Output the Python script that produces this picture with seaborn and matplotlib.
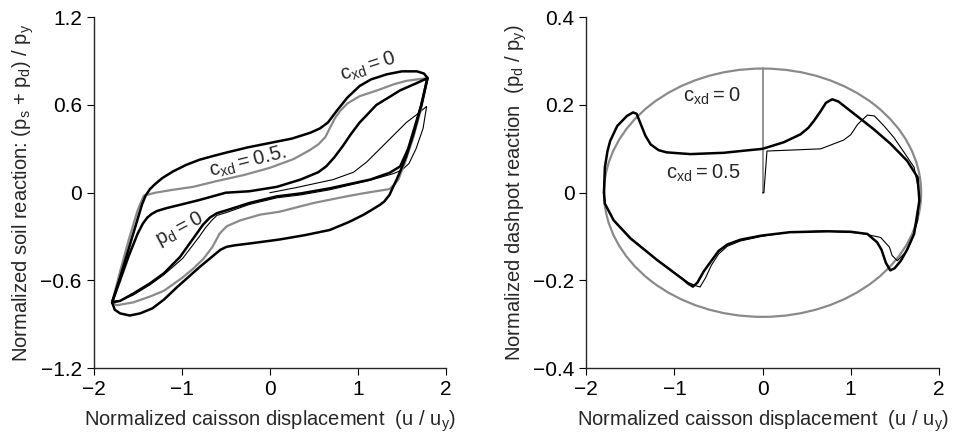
import numpy as np
import seaborn as sns
import matplotlib.pyplot as plt
from matplotlib.patches import Ellipse

# ---- левая панель: (ps + pd) / py против u / uy ----
# внешняя петля, c_xd = 0.5 (чёрная толстая)
outer_x = [-1.79, -1.70, -1.60, -1.50, -1.45, -1.41, -1.36, -1.30, -1.22, -1.10, -0.95, -0.80, -0.65,
           -0.49, -0.25, 0.0, 0.25, 0.46, 0.57, 0.66, 0.76, 0.88, 1.02, 1.15, 1.33, 1.50, 1.67, 1.75,
           1.79, 1.72, 1.64, 1.55, 1.49, 1.44, 1.40, 1.36, 1.30, 1.25, 1.15, 1.06, 0.90, 0.68, 0.40,
           0.11, -0.20, -0.40, -0.49, -0.56, -0.62, -0.70, -0.80, -0.93, -1.06, -1.20, -1.33, -1.47,
           -1.59, -1.70, -1.76, -1.79]
outer_y = [-0.75, -0.58, -0.38, -0.18, -0.08, -0.02, 0.025, 0.06, 0.10, 0.145, 0.19, 0.225, 0.25,
           0.275, 0.31, 0.34, 0.37, 0.41, 0.44, 0.48, 0.56, 0.65, 0.73, 0.775, 0.81, 0.83, 0.83, 0.815,
           0.785, 0.60, 0.42, 0.25, 0.16, 0.09, 0.04, -0.014, -0.06, -0.083, -0.12, -0.152, -0.20,
           -0.255, -0.29, -0.32, -0.345, -0.36, -0.37, -0.39, -0.42, -0.46, -0.51, -0.58, -0.65, -0.73,
           -0.79, -0.825, -0.84, -0.825, -0.80, -0.75]

# серая петля
gray_x = [-1.79, -1.70, -1.60, -1.50, -1.43, -1.30, -1.10, -0.87, -0.60, -0.30, 0.0, 0.27, 0.45,
          0.55, 0.63, 0.68, 0.74, 0.80, 0.88, 1.02, 1.22, 1.40, 1.55, 1.74, 1.79,
          1.72, 1.63, 1.53, 1.46, 1.42, 1.36, 1.10, 0.87, 0.50, 0.11, -0.11, -0.34, -0.49, -0.57,
          -0.65, -0.75, -0.87, -0.99, -1.20, -1.36, -1.55, -1.74, -1.79]
gray_y = [-0.75, -0.54, -0.32, -0.12, -0.02, 0.0, 0.02, 0.04, 0.08, 0.12, 0.17, 0.23, 0.29,
          0.33, 0.38, 0.44, 0.51, 0.56, 0.61, 0.66, 0.70, 0.74, 0.765, 0.78, 0.78,
          0.58, 0.38, 0.20, 0.09, 0.06, 0.025, 0.0, -0.025, -0.07, -0.13, -0.15, -0.19, -0.23, -0.28,
          -0.37, -0.45, -0.52, -0.58, -0.67, -0.71, -0.75, -0.77, -0.75]

# средняя петля, pd = 0 (чёрная толстая)
mid_x = [-1.79, -1.70, -1.60, -1.50, -1.44, -1.39, -1.34, -1.28, -1.17, -1.00, -0.80, -0.50, -0.23,
         0.08, 0.35, 0.55, 0.64, 0.73, 0.83, 0.92, 1.02, 1.21, 1.48, 1.65, 1.76, 1.79,
         1.72, 1.64, 1.57, 1.48, 1.36, 1.14, 0.68, 0.35, 0.08, -0.23, -0.49, -0.60, -0.68, -0.76,
         -0.83, -1.02, -1.20, -1.36, -1.55, -1.70, -1.79]
mid_y = [-0.75, -0.60, -0.43, -0.28, -0.21, -0.17, -0.145, -0.125, -0.105, -0.08, -0.05, 0.0, 0.01,
         0.04, 0.09, 0.14, 0.18, 0.24, 0.32, 0.40, 0.48, 0.60, 0.70, 0.745, 0.775, 0.785,
         0.60, 0.44, 0.30, 0.18, 0.136, 0.09, 0.03, -0.005, -0.025, -0.07, -0.12, -0.14, -0.17,
         -0.22, -0.28, -0.44, -0.55, -0.62, -0.69, -0.74, -0.75]

# первый цикл нагружения (тонкая)
first_x = [0.0, 0.30, 0.72, 0.95, 1.10, 1.25, 1.40, 1.55, 1.68, 1.78,
           1.74, 1.66, 1.58, 1.50, 1.40, 1.14, 0.68, 0.35, 0.08, -0.23, -0.49, -0.60, -0.66, -0.73,
           -0.80, -0.99, -1.20, -1.36, -1.55, -1.70, -1.78]
first_y = [0.0, 0.035, 0.09, 0.14, 0.21, 0.30, 0.39, 0.48, 0.54, 0.59,
           0.44, 0.30, 0.20, 0.155, 0.13, 0.085, 0.02, -0.015, -0.035, -0.08, -0.135, -0.155,
           -0.19, -0.24, -0.30, -0.45, -0.56, -0.63, -0.70, -0.74, -0.74]

# ---- правая панель: pd / py против u / uy ----
# эллипс при c_xd = 0: центр и полуоси
ell_center = (0.0, 0.0)
ell_half_w = 1.80
ell_half_h = 0.283
spike_x = [0.0, 0.0]
spike_y = [0.0, 0.285]

dash_x = [-1.80, -1.79, -1.76, -1.73, -1.65, -1.54, -1.47, -1.43, -1.39, -1.33, -1.27, -1.18, -1.09,
          -0.82, -0.44, -0.20, 0.0, 0.24, 0.43, 0.52, 0.58, 0.66, 0.72, 0.79, 0.86, 1.07, 1.26, 1.45,
          1.64, 1.76, 1.78, 1.72, 1.64, 1.57, 1.50, 1.45, 1.40, 1.35, 1.30, 1.19, 1.00, 0.74, 0.31,
          -0.02, -0.25, -0.40, -0.50, -0.58, -0.67, -0.74, -0.79, -0.84, -0.90, -1.20, -1.50, -1.69,
          -1.79, -1.80]
dash_y = [0.0, 0.058, 0.095, 0.118, 0.152, 0.175, 0.183, 0.180, 0.160, 0.130, 0.110, 0.097, 0.092,
          0.088, 0.091, 0.096, 0.100, 0.115, 0.133, 0.148, 0.163, 0.186, 0.205, 0.213, 0.208, 0.175,
          0.145, 0.112, 0.073, 0.035, -0.018, -0.094, -0.130, -0.155, -0.172, -0.177, -0.160, -0.130,
          -0.113, -0.094, -0.089, -0.088, -0.090, -0.098, -0.107, -0.118, -0.133, -0.155, -0.180,
          -0.205, -0.214, -0.208, -0.198, -0.153, -0.104, -0.063, -0.025, 0.0]

dash_first_x = [0.0, 0.015, 0.05, 0.30, 0.66, 0.92, 1.00, 1.08, 1.19, 1.27, 1.38, 1.49, 1.62, 1.72,
                1.78, 1.76, 1.70, 1.64, 1.53, 1.47, 1.44, 1.34, 1.11, 0.69, 0.31, 0.0, -0.25, -0.40,
                -0.50, -0.58, -0.65, -0.71, -0.76, -0.84, -0.90, -1.20, -1.50, -1.69, -1.79, -1.80]
dash_first_y = [0.0, 0.0, 0.095, 0.097, 0.100, 0.120, 0.132, 0.156, 0.177, 0.175, 0.152, 0.126,
                0.088, 0.058, -0.003, -0.064, -0.105, -0.132, -0.155, -0.143, -0.124, -0.102,
                -0.092, -0.087, -0.090, -0.099, -0.110, -0.122, -0.140, -0.165, -0.195, -0.215,
                -0.212, -0.205, -0.197, -0.152, -0.103, -0.062, -0.024, 0.0]

x_ticks = [-2, -1, 0, 1, 2]
left_yticks = [-1.2, -0.6, 0, 0.6, 1.2]
left_yticklabels = ['\u22121.2', '\u22120.6', '0', '0.6', '1.2']
right_yticks = [-0.4, -0.2, 0, 0.2, 0.4]
right_yticklabels = ['\u22120.4', '\u22120.2', '0', '0.2', '0.4']

GRAY = '#8a8a8a'
FS = 14.5
TICK_FS = 15

sns.set_style('ticks')
plt.rcParams['font.family'] = ['Liberation Sans', 'DejaVu Sans']
plt.rcParams['mathtext.default'] = 'regular'
plt.rcParams['font.size'] = FS
plt.rcParams['axes.linewidth'] = 1.0
plt.rcParams['xtick.major.size'] = 5
plt.rcParams['ytick.major.size'] = 5
plt.rcParams['xtick.direction'] = 'out'
plt.rcParams['ytick.direction'] = 'out'

fig = plt.figure(figsize=(9.55, 4.42), dpi=100)
ax1 = fig.add_axes([0.098, 0.167, 0.369, 0.794])
ax2 = fig.add_axes([0.614, 0.167, 0.369, 0.794])


def draw(ax, x, y, color, lw):
    sns.lineplot(x=x, y=y, sort=False, estimator=None, color=color, lw=lw, ax=ax,
                 solid_joinstyle='round', solid_capstyle='round')


# левая панель
draw(ax1, first_x, first_y, 'black', 0.8)
draw(ax1, gray_x, gray_y, GRAY, 1.6)
draw(ax1, mid_x, mid_y, 'black', 1.8)
draw(ax1, outer_x, outer_y, 'black', 1.8)

ax1.text(1.12, 0.86, r'$c_{xd} = 0$', rotation=18, ha='center', va='center', fontsize=FS)
ax1.text(-0.25, 0.21, r'$c_{xd} = 0.5.$', rotation=14, ha='center', va='center', fontsize=FS)
ax1.text(-1.02, -0.25, r'$p_d = 0$', rotation=28, ha='center', va='center', fontsize=FS)

ax1.set_xlim(-2, 2)
ax1.set_ylim(-1.2, 1.2)
ax1.set_xticks(x_ticks)
ax1.set_yticks(left_yticks)
ax1.set_yticklabels(left_yticklabels)
ax1.set_xlabel(r'Normalized caisson displacement  (u / $u_y$)', labelpad=7)
ax1.set_ylabel(r'Normalized soil reaction: ($p_s$ + $p_d$) / $p_y$', labelpad=3)

# правая панель
ax2.add_patch(Ellipse(ell_center, 2 * ell_half_w, 2 * ell_half_h, fill=False,
                      edgecolor=GRAY, lw=1.6, transform=ax2.transData))
draw(ax2, spike_x, spike_y, GRAY, 1.3)
draw(ax2, dash_first_x, dash_first_y, 'black', 0.8)
draw(ax2, dash_x, dash_y, 'black', 1.8)

ax2.text(-0.58, 0.22, r'$c_{xd} = 0$', ha='center', va='center', fontsize=FS)
ax2.text(-0.68, 0.045, r'$c_{xd} = 0.5$', ha='center', va='center', fontsize=FS)

ax2.set_xlim(-2, 2)
ax2.set_ylim(-0.4, 0.4)
ax2.set_xticks(x_ticks)
ax2.set_yticks(right_yticks)
ax2.set_yticklabels(right_yticklabels)
ax2.set_xlabel(r'Normalized caisson displacement  (u / $u_y$)', labelpad=7)
ax2.set_ylabel(r'Normalized dashpot reaction  ($p_d$ / $p_y$)', labelpad=3)

for ax in (ax1, ax2):
    sns.despine(ax=ax)
    ax.tick_params(colors='black', labelsize=TICK_FS)

fig.savefig('out.png', dpi=100)
